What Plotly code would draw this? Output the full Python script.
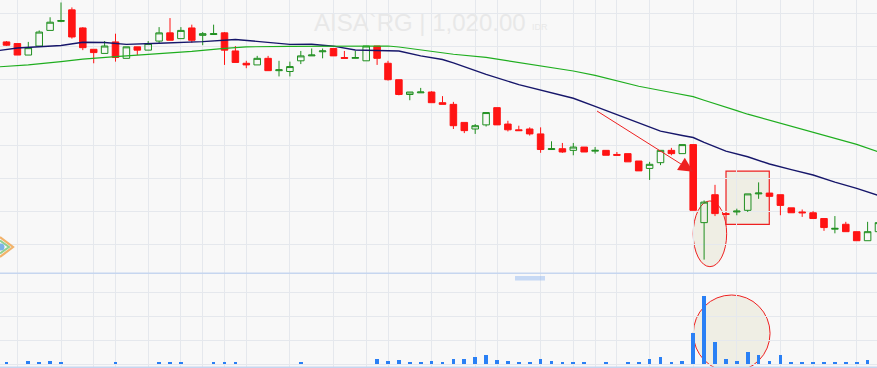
import plotly.graph_objects as go

# ---------------- data ----------------
opens  = [2230, 2220, 2150, 2205, 2300, 2355, 2425, 2315, 2185, 2160,
          2230, 2130, 2200, 2180, 2235, 2285, 2250, 2315, 2270, 2275,
          2285, 2175, 2100, 2090, 2130, 2055, 2050, 2115, 2145, 2170,
          2190, 2135, 2130, 2115, 2205, 2100, 2000, 1910, 1920, 1925,
          1860, 1850, 1740, 1700, 1725, 1830, 1730, 1695, 1700, 1670,
          1575, 1580, 1570, 1590, 1565, 1570, 1545, 1550, 1505, 1460,
          1495, 1570, 1550, 1605, 1130, 1300, 1185, 1195, 1205, 1305,
          1310, 1300, 1220, 1195, 1190, 1155, 1090, 1120, 1075, 1020, 1075]
highs  = [2235, 2220, 2230, 2300, 2380, 2470, 2440, 2320, 2185, 2235,
          2280, 2200, 2200, 2235, 2320, 2375, 2320, 2335, 2290, 2335,
          2290, 2205, 2115, 2145, 2145, 2115, 2110, 2175, 2190, 2190,
          2190, 2175, 2175, 2205, 2205, 2115, 2000, 1925, 1950, 1930,
          1900, 1865, 1740, 1730, 1800, 1830, 1750, 1720, 1710, 1710,
          1625, 1615, 1615, 1590, 1590, 1570, 1560, 1550, 1505, 1500,
          1570, 1585, 1605, 1605, 1265, 1360, 1185, 1215, 1305, 1375,
          1310, 1300, 1220, 1210, 1200, 1155, 1170, 1135, 1075, 1135, 1130]
lows   = [2205, 2150, 2150, 2205, 2300, 2350, 2250, 2180, 2100, 2160,
          2110, 2130, 2150, 2180, 2220, 2240, 2250, 2225, 2210, 2275,
          2090, 2105, 2070, 2090, 2055, 2020, 2020, 2095, 2145, 2130,
          2145, 2130, 2130, 2115, 2090, 1995, 1905, 1875, 1920, 1860,
          1850, 1700, 1675, 1670, 1715, 1725, 1685, 1690, 1660, 1555,
          1575, 1555, 1540, 1560, 1550, 1540, 1540, 1500, 1445, 1390,
          1480, 1540, 1550, 1205, 905, 1170, 1180, 1175, 1195, 1275,
          1290, 1175, 1190, 1165, 1155, 1080, 1065, 1075, 1020, 1020, 1075]
closes = [2210, 2150, 2195, 2290, 2350, 2360, 2260, 2195, 2165, 2205,
          2135, 2200, 2180, 2220, 2285, 2240, 2300, 2240, 2280, 2280,
          2180, 2105, 2090, 2130, 2055, 2060, 2080, 2145, 2150, 2175,
          2145, 2130, 2135, 2205, 2130, 2000, 1910, 1925, 1925, 1860,
          1850, 1720, 1690, 1720, 1800, 1725, 1695, 1690, 1670, 1575,
          1580, 1560, 1590, 1560, 1570, 1540, 1540, 1500, 1445, 1485,
          1570, 1550, 1605, 1205, 1255, 1185, 1180, 1200, 1305, 1310,
          1290, 1235, 1190, 1190, 1155, 1100, 1095, 1075, 1020, 1075, 1130]
volumes = [1.5, 0, 2.2, 1.5, 2.2, 1.5, 0, 0, 0, 0,
           1.5, 0, 0, 0, 1.5, 1.5, 1.5, 0, 0, 1.5,
           1.5, 1.5, 0, 0, 0, 0, 0, 1.5, 0, 0,
           0, 0, 0, 0, 4.5, 2.2, 3.0, 1.5, 1.5, 2.2,
           1.5, 4.5, 4.5, 6.0, 7.5, 3.6, 2.8, 1.2, 2.0, 4.5,
           2.8, 2.0, 2.0, 1.2, 0, 1.2, 0, 2.0, 2.0, 4.5,
           6.0, 2.0, 2.8, 26.0, 57.0, 18.5, 4.5, 2.8, 10.0, 7.8,
           2.8, 7.5, 2.0, 1.2, 1.2, 1.2, 2.0, 2.0, 1.2, 3.6, 2.0]
days = list(range(len(opens)))

ma_navy_idx = [-1, 1, 5, 7, 9, 11, 14, 18, 21, 23, 26, 28, 30, 32, 34, 36, 38, 40, 41, 44,
               47, 49, 52, 54, 56, 58, 60, 62, 63, 64, 66, 68, 70, 72, 74, 76, 78, 80]
ma_navy_val = [2175, 2193, 2208, 2228, 2226, 2215, 2222, 2232, 2245, 2232, 2215, 2216, 2204, 2181,
               2176, 2175, 2145, 2123, 2102, 2032, 1970, 1935, 1887, 1838, 1788, 1740, 1687, 1660,
               1648, 1619, 1565, 1531, 1487, 1453, 1420, 1377, 1339, 1295]
ma_green_idx = [-1, 2, 5, 7, 10, 12, 14, 17, 20, 22, 26, 30, 35, 36, 38, 39, 41, 44, 47, 50,
                52, 54, 56, 58, 61, 63, 64, 66, 67, 68, 72, 76, 78, 80]
ma_green_val = [2077, 2090, 2110, 2125, 2141, 2150, 2160, 2172, 2191, 2200, 2203, 2205, 2205, 2199,
                2182, 2170, 2155, 2136, 2105, 2071, 2053, 2026, 1994, 1960, 1922, 1897, 1875, 1835,
                1812, 1790, 1716, 1646, 1606, 1560]

grid_days = [1, 5, 8, 10, 13, 16, 18, 20, 22, 26, 30, 33, 35, 39, 43, 45, 49, 52, 54, 56,
             59, 63, 67, 71, 74, 78]
price_ticks = [1000, 1200, 1400, 1600, 1800, 2000, 2200, 2400]
vol_ticks = [0, 20, 40, 60]

title_text = "AISA`RG | 1,020.00"
currency_text = "IDR"

# ---------------- styling ----------------
W, H = 877, 368
BG = "#f8f8f8"
GRID = "#e5e8ed"
SPLIT = 273.3  # px from top where volume panel starts


def px(x, y):
    return x / W, 1 - y / H


fig = go.Figure()

fig.add_trace(go.Candlestick(
    x=days, open=opens, high=highs, low=lows, close=closes,
    xaxis="x", yaxis="y",
    increasing=dict(line=dict(color="#1f8f1f", width=1), fillcolor="rgba(0,0,0,0)"),
    decreasing=dict(line=dict(color="#ff1414", width=1), fillcolor="#ff1414"),
    whiskerwidth=0, showlegend=False, hoverinfo="skip",
))
fig.add_trace(go.Scatter(x=ma_navy_idx, y=ma_navy_val, mode="lines",
                         line=dict(color="#16166a", width=1.4), xaxis="x", yaxis="y",
                         showlegend=False, hoverinfo="skip"))
fig.add_trace(go.Scatter(x=ma_green_idx, y=ma_green_val, mode="lines",
                         line=dict(color="#1fae1f", width=1.2), xaxis="x", yaxis="y",
                         showlegend=False, hoverinfo="skip"))
fig.add_trace(go.Bar(x=days, y=volumes, width=0.34, marker=dict(color="#2a80f5", line=dict(width=0)),
                     xaxis="x2", yaxis="y2", showlegend=False, hoverinfo="skip"))

xr = [-6.5 / 10.9, (W - 6.5) / 10.9]
p_per_px = 200 / 32.86
price_range = [1000 - (SPLIT - 244) * p_per_px, 1000 + 244 * p_per_px]
v_per_px = 20 / 24.0
vol_range = [-(H - 364.3) * v_per_px, (364.3 - SPLIT) * v_per_px]
split_frac = 1 - SPLIT / H

axis_common = dict(showticklabels=False, ticks="", zeroline=False, showline=False,
                   gridcolor=GRID, gridwidth=1, fixedrange=True)

fig.update_layout(
    width=W, height=H, margin=dict(l=0, r=0, t=0, b=0, pad=0),
    paper_bgcolor=BG, plot_bgcolor=BG,
    boxgap=0.4, boxgroupgap=0, bargap=0,
    xaxis=dict(domain=[0, 1], range=xr, tickmode="array", tickvals=grid_days,
               rangeslider=dict(visible=False), anchor="y", **axis_common),
    yaxis=dict(domain=[split_frac, 1], range=price_range, tickmode="array",
               tickvals=price_ticks, anchor="x", **axis_common),
    xaxis2=dict(domain=[0, 1], range=xr, tickmode="array", tickvals=grid_days,
                anchor="y2", matches="x", **axis_common),
    yaxis2=dict(domain=[0, split_frac], range=vol_range, tickmode="array",
                tickvals=vol_ticks, anchor="x2", **axis_common),
    font=dict(family="Liberation Sans"),
)

# highlight shapes (drawn under the candles, over the grid)
SHADE = "#efeee4"
RED = "#ee2020"
fig.add_shape(type="circle", xref="x", yref="y", layer="below",
              x0=63.0, x1=66.07, y0=862, y1=1262,
              fillcolor=SHADE, line=dict(color=RED, width=1))
fig.add_shape(type="rect", xref="x", yref="y", layer="below",
              x0=66.01, x1=69.98, y0=1120, y1=1444,
              fillcolor=SHADE, line=dict(color=RED, width=1.2))
fig.add_shape(type="circle", xref="x2", yref="y2", layer="below",
              x0=63.01, x1=70.05, y0=-6.2, y1=57.75,
              fillcolor=SHADE, line=dict(color=RED, width=1))

# arrow
fig.add_annotation(x=63.0, y=1440, ax=54.04, ay=1815, xref="x", yref="y",
                   axref="x", ayref="y", text="", showarrow=True,
                   arrowhead=2, arrowsize=2.9, arrowwidth=1, arrowcolor=RED, standoff=0)

# watermark
x0, y0 = px(311.7, 22.5)
fig.add_annotation(x=x0, y=y0, xref="paper", yref="paper", xanchor="left", yanchor="middle",
                   text=title_text, showarrow=False,
                   font=dict(size=24, color="#e8e8e8", family="Liberation Sans"))
x1, y1 = px(530, 26.5)
fig.add_annotation(x=x1, y=y1, xref="paper", yref="paper", xanchor="left", yanchor="middle",
                   text=currency_text, showarrow=False,
                   font=dict(size=9, color="#e8e8e8", family="Liberation Sans"))

# panel separators
for yy, col, w in [(SPLIT, "#c6d6ef", 1.6), (367.3, "#c6d6ef", 1.4)]:
    _, fy = px(0, yy)
    fig.add_shape(type="line", xref="paper", yref="paper", x0=0, x1=1, y0=fy, y1=fy,
                  line=dict(color=col, width=w), layer="above")

# resize handle
hx0, hy0 = px(515, 276)
hx1, hy1 = px(545, 280.5)
fig.add_shape(type="rect", xref="paper", yref="paper", x0=hx0, x1=hx1, y0=hy1, y1=hy0,
              fillcolor="rgba(140,180,240,0.45)", line=dict(width=0), layer="above")


def path(points):
    s = ""
    for k, (a, b) in enumerate(points):
        fx, fy = px(a, b)
        s += ("M" if k == 0 else "L") + f"{fx:.5f},{fy:.5f} "
    return s.strip()


# navigator icon on the left
fig.add_shape(type="path", xref="paper", yref="paper", path=path([(0, 237), (13, 247), (0, 257)]),
              line=dict(color="#f2b26a", width=2.2), layer="above")
fig.add_shape(type="path", xref="paper", yref="paper", path=path([(0, 240.5), (9, 247), (0, 253.5)]),
              line=dict(color="#8fd08f", width=2), layer="above")
cx0, cy0 = px(-2.5, 243.5)
cx1, cy1 = px(4.5, 250.5)
fig.add_shape(type="circle", xref="paper", yref="paper", x0=cx0, x1=cx1, y0=cy1, y1=cy0,
              fillcolor="#7db3e6", line=dict(width=0), layer="above")

fig.write_html("out.html", config={"displayModeBar": False})
